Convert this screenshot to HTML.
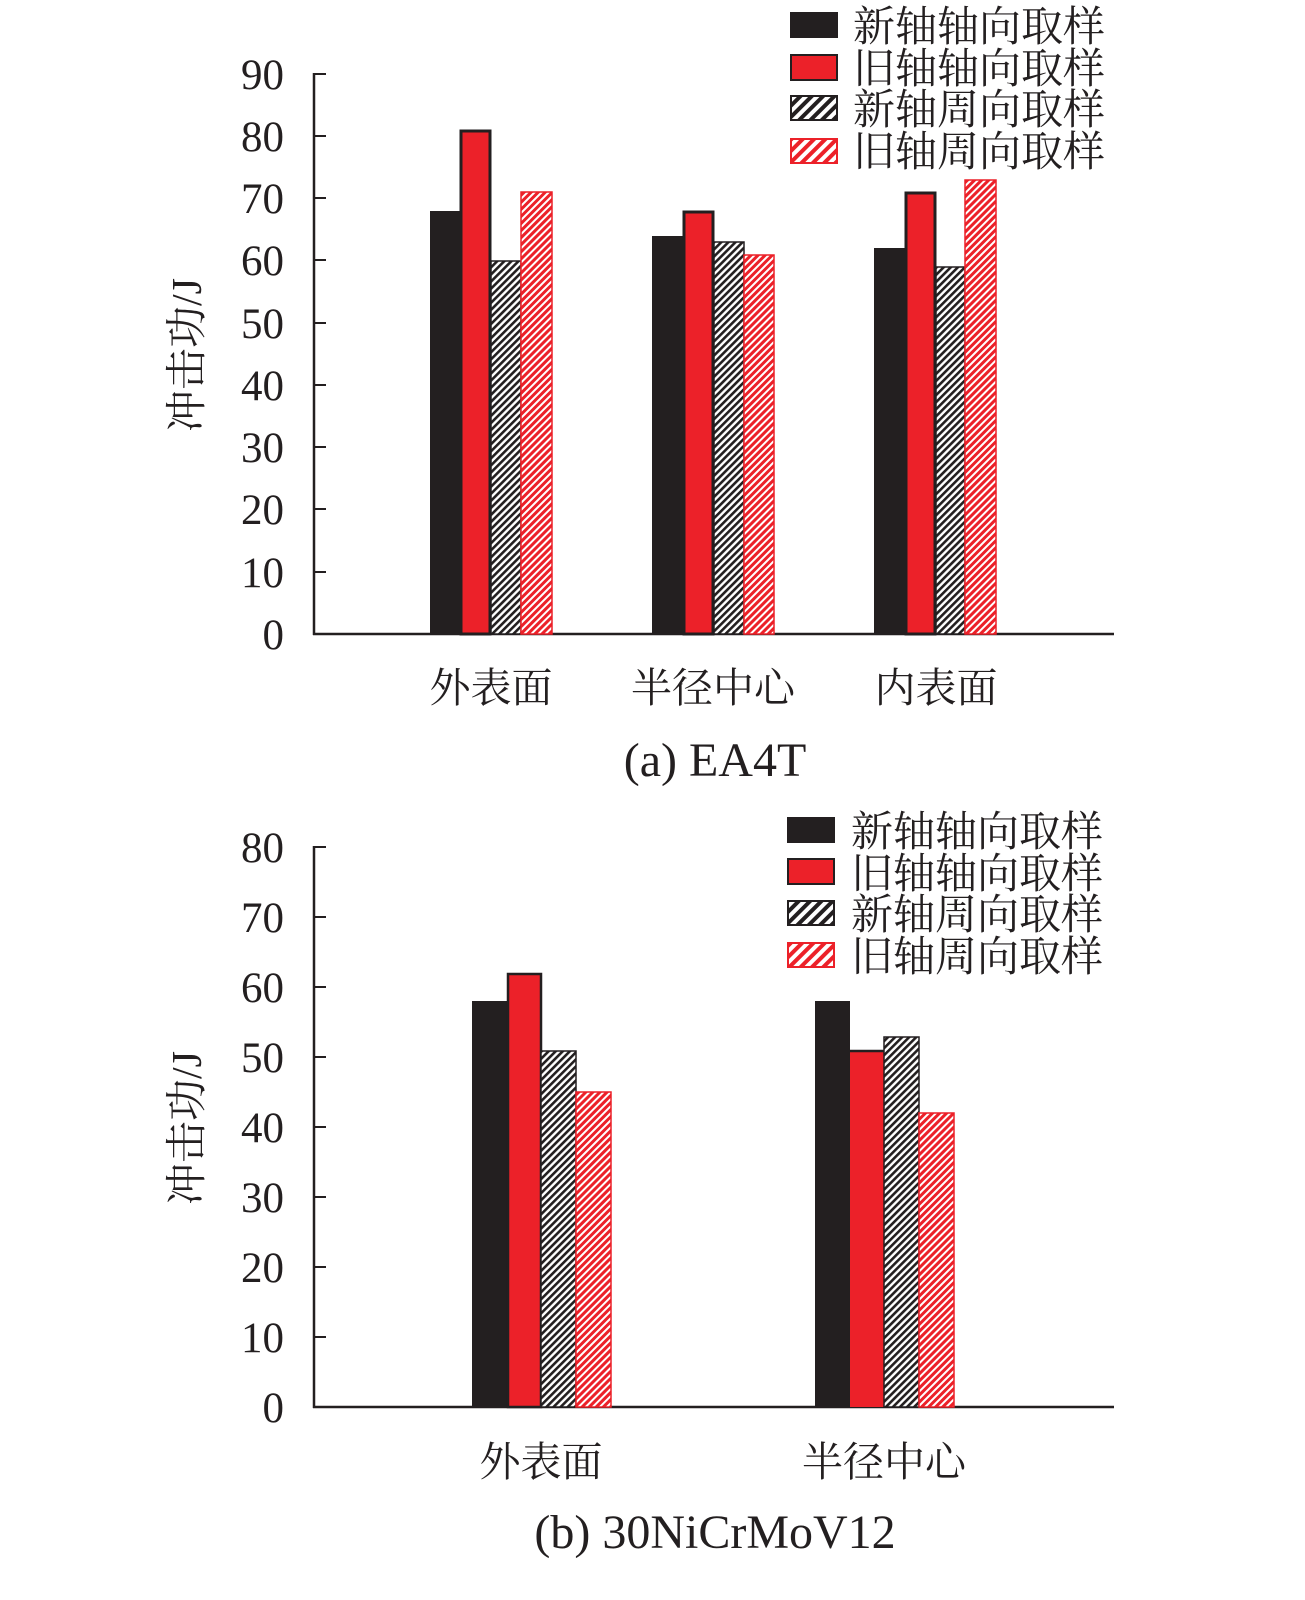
<!DOCTYPE html>
<html><head><meta charset="utf-8"><style>body{margin:0;background:#fff}svg{display:block}</style></head>
<body>
<svg width="1305" height="1600" viewBox="0 0 1305 1600" xmlns="http://www.w3.org/2000/svg">
<defs>
<pattern id="hb" patternUnits="userSpaceOnUse" width="5" height="5" patternTransform="rotate(45)"><rect width="5" height="5" fill="#fff"/><rect width="2.6" height="5" fill="#231f20"/></pattern>
<pattern id="hr" patternUnits="userSpaceOnUse" width="5" height="5" patternTransform="rotate(45)"><rect width="5" height="5" fill="#fff"/><rect width="3" height="5" fill="#ec2129"/></pattern>
<pattern id="lb" patternUnits="userSpaceOnUse" width="8" height="8" patternTransform="rotate(45)"><rect width="8" height="8" fill="#fff"/><rect width="4" height="8" fill="#231f20"/></pattern>
<pattern id="lr" patternUnits="userSpaceOnUse" width="8" height="8" patternTransform="rotate(45)"><rect width="8" height="8" fill="#fff"/><rect width="4" height="8" fill="#ec2129"/></pattern>
</defs>
<g font-family="'Liberation Serif','Noto Serif CJK SC',serif" fill="#231f20">
<!-- Chart a -->
<g stroke="#231f20" stroke-width="2.5" fill="none">
<line x1="314" y1="73" x2="314" y2="635"/><line x1="313" y1="634" x2="1114" y2="634"/>
</g>
<g stroke="#231f20" stroke-width="2">
<line x1="314" y1="74" x2="326" y2="74"/><line x1="314" y1="136" x2="326" y2="136"/><line x1="314" y1="198" x2="326" y2="198"/><line x1="314" y1="260" x2="326" y2="260"/><line x1="314" y1="323" x2="326" y2="323"/><line x1="314" y1="385" x2="326" y2="385"/><line x1="314" y1="447" x2="326" y2="447"/><line x1="314" y1="509" x2="326" y2="509"/><line x1="314" y1="572" x2="326" y2="572"/>
</g>
<g font-size="43" text-anchor="end">
<text x="284" y="89">90</text><text x="284" y="151">80</text><text x="284" y="213">70</text><text x="284" y="275">60</text><text x="284" y="338">50</text><text x="284" y="400">40</text><text x="284" y="462">30</text><text x="284" y="524">20</text><text x="284" y="587">10</text><text x="284" y="649">0</text>
</g>
<text transform="translate(201,355) rotate(-90)" font-size="42" text-anchor="middle">冲击功/J</text>
<rect x="430" y="211" width="30" height="423" fill="#231f20"/>
<rect x="461" y="131" width="29" height="503" fill="#ec2129" stroke="#231f20" stroke-width="3"/>
<rect x="491" y="261" width="30" height="373" fill="url(#hb)" stroke="#231f20" stroke-width="1.5"/>
<rect x="521" y="192" width="31" height="442" fill="url(#hr)" stroke="#ec2129" stroke-width="1.5"/>
<rect x="652" y="236" width="31" height="398" fill="#231f20"/>
<rect x="684" y="212" width="29" height="422" fill="#ec2129" stroke="#231f20" stroke-width="3"/>
<rect x="714" y="242" width="30" height="392" fill="url(#hb)" stroke="#231f20" stroke-width="1.5"/>
<rect x="744" y="255" width="30" height="379" fill="url(#hr)" stroke="#ec2129" stroke-width="1.5"/>
<rect x="874" y="248" width="31" height="386" fill="#231f20"/>
<rect x="906" y="193" width="29" height="441" fill="#ec2129" stroke="#231f20" stroke-width="3"/>
<rect x="936" y="267" width="29" height="367" fill="url(#hb)" stroke="#231f20" stroke-width="1.5"/>
<rect x="965" y="180" width="31" height="454" fill="url(#hr)" stroke="#ec2129" stroke-width="1.5"/>
<g font-size="41" text-anchor="middle">
<text x="491" y="702">外表面</text><text x="713" y="702">半径中心</text><text x="936" y="702">内表面</text>
</g>
<text x="715" y="776" font-size="48" text-anchor="middle">(a) EA4T</text>
<rect x="790" y="12" width="48" height="26" fill="#231f20"/>
<rect x="791" y="55" width="46" height="25" fill="#ec2129" stroke="#231f20" stroke-width="2"/>
<rect x="791" y="96" width="46" height="24" fill="url(#lb)" stroke="#231f20" stroke-width="2"/>
<rect x="791" y="139" width="46" height="24" fill="url(#lr)" stroke="#ec2129" stroke-width="2"/>
<g font-size="42">
<text x="853" y="41">新轴轴向取样</text><text x="853" y="83">旧轴轴向取样</text><text x="853" y="124">新轴周向取样</text><text x="853" y="166">旧轴周向取样</text>
</g>

<!-- Chart b -->
<g stroke="#231f20" stroke-width="2.5" fill="none">
<line x1="314" y1="846" x2="314" y2="1408"/><line x1="313" y1="1407" x2="1114" y2="1407"/>
</g>
<g stroke="#231f20" stroke-width="2">
<line x1="314" y1="847" x2="326" y2="847"/><line x1="314" y1="917" x2="326" y2="917"/><line x1="314" y1="987" x2="326" y2="987"/><line x1="314" y1="1057" x2="326" y2="1057"/><line x1="314" y1="1127" x2="326" y2="1127"/><line x1="314" y1="1197" x2="326" y2="1197"/><line x1="314" y1="1267" x2="326" y2="1267"/><line x1="314" y1="1337" x2="326" y2="1337"/>
</g>
<g font-size="43" text-anchor="end">
<text x="284" y="862">80</text><text x="284" y="932">70</text><text x="284" y="1002">60</text><text x="284" y="1072">50</text><text x="284" y="1142">40</text><text x="284" y="1212">30</text><text x="284" y="1282">20</text><text x="284" y="1352">10</text><text x="284" y="1422">0</text>
</g>
<text transform="translate(201,1128) rotate(-90)" font-size="42" text-anchor="middle">冲击功/J</text>
<rect x="472" y="1001" width="35" height="406" fill="#231f20"/>
<rect x="508" y="974" width="33" height="433" fill="#ec2129" stroke="#231f20" stroke-width="2.5"/>
<rect x="541" y="1051" width="35" height="356" fill="url(#hb)" stroke="#231f20" stroke-width="1.5"/>
<rect x="576" y="1092" width="35" height="315" fill="url(#hr)" stroke="#ec2129" stroke-width="1.5"/>
<rect x="815" y="1001" width="35" height="406" fill="#231f20"/>
<rect x="850" y="1051" width="34" height="356" fill="#ec2129"/>
<line x1="850" y1="1051" x2="884" y2="1051" stroke="#231f20" stroke-width="2.5"/>
<rect x="884" y="1037" width="35" height="370" fill="url(#hb)" stroke="#231f20" stroke-width="1.5"/>
<rect x="919" y="1113" width="35" height="294" fill="url(#hr)" stroke="#ec2129" stroke-width="1.5"/>
<g font-size="41" text-anchor="middle">
<text x="541" y="1476">外表面</text><text x="884" y="1476">半径中心</text>
</g>
<text x="715" y="1548" font-size="48" text-anchor="middle">(b) 30NiCrMoV12</text>
<rect x="787" y="817" width="48" height="26" fill="#231f20"/>
<rect x="788" y="859" width="46" height="25" fill="#ec2129" stroke="#231f20" stroke-width="2"/>
<rect x="788" y="901" width="46" height="24" fill="url(#lb)" stroke="#231f20" stroke-width="2"/>
<rect x="788" y="943" width="46" height="24" fill="url(#lr)" stroke="#ec2129" stroke-width="2"/>
<g font-size="42">
<text x="851" y="846">新轴轴向取样</text><text x="851" y="888">旧轴轴向取样</text><text x="851" y="929">新轴周向取样</text><text x="851" y="971">旧轴周向取样</text>
</g>
</g>
</svg>
</body></html>
